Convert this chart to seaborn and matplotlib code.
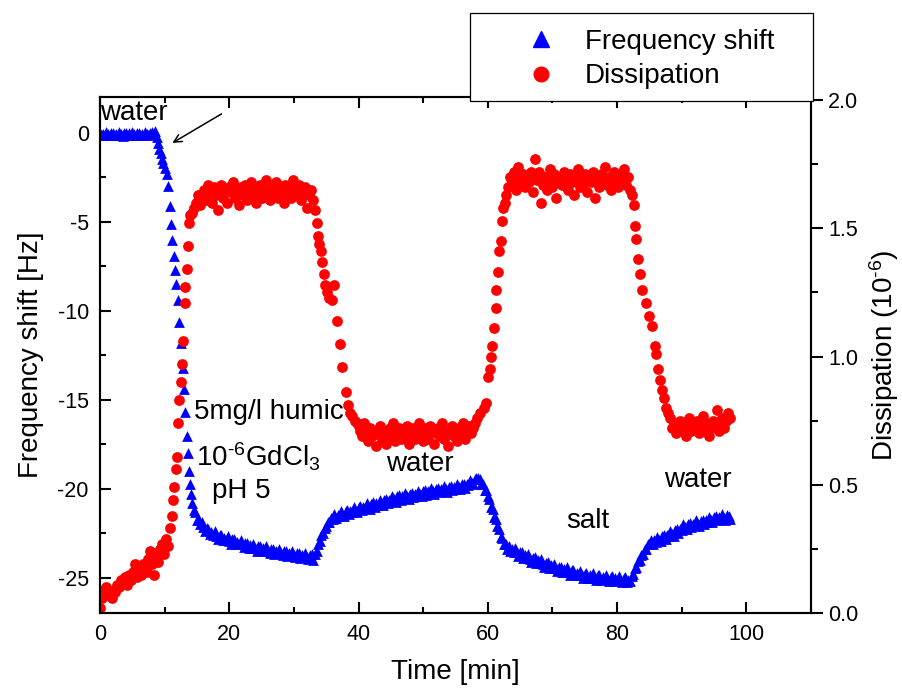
import matplotlib
matplotlib.use("Agg")
import matplotlib.pyplot as plt
from matplotlib.lines import Line2D
from matplotlib.patches import Rectangle
from matplotlib.ticker import MultipleLocator, FormatStrFormatter
import pandas as pd
import seaborn as sns

sns.set_style("ticks")
plt.rcParams["font.family"] = ["Liberation Sans", "DejaVu Sans"]
plt.rcParams["axes.unicode_minus"] = False
plt.rcParams["mathtext.fontset"] = "custom"
plt.rcParams["mathtext.rm"] = "Liberation Sans"
plt.rcParams["mathtext.it"] = "Liberation Sans:italic"
plt.rcParams["mathtext.default"] = "regular"
plt.rcParams["text.color"] = "black"
plt.rcParams["axes.labelcolor"] = "black"
plt.rcParams["xtick.color"] = "black"
plt.rcParams["ytick.color"] = "black"

# QCM-D run: (time [min], frequency shift [Hz])
freq_shift = [
    (0.0, 0.01), (0.25, -0.13), (0.5, -0.03), (0.75, -0.10), (1.0, 0.04), (1.25, -0.08),
    (1.5, -0.14), (1.75, -0.01), (2.0, 0.02), (2.25, -0.12), (2.5, -0.04), (2.75, -0.09),
    (3.0, 0.05), (3.25, -0.07), (3.5, -0.15), (3.75, 0.00), (4.0, 0.01), (4.25, -0.13),
    (4.5, -0.02), (4.75, -0.11), (5.0, 0.03), (5.25, -0.08), (5.5, -0.13), (5.75, -0.02),
    (6.0, 0.02), (6.25, -0.12), (6.5, -0.03), (6.75, -0.10), (7.0, 0.05), (7.25, -0.07),
    (7.5, -0.12), (7.75, 0.02), (8.0, 0.06), (8.25, -0.03), (8.5, 0.12),
    (8.8, -0.2), (9.0, -0.55), (9.2, -0.9), (9.4, -1.15), (9.6, -1.45), (9.8, -1.7),
    (10.0, -1.95), (10.3, -2.3), (10.6, -3.0), (10.8, -4.1), (11.0, -5.1), (11.2, -6.0),
    (11.4, -6.9), (11.6, -7.7), (11.8, -8.5), (12.0, -9.4), (12.3, -10.6), (12.5, -11.8),
    (12.8, -13.2), (13.0, -14.4), (13.2, -15.7), (13.4, -17.0), (13.55, -18.0), (13.7, -19.0),
    (13.9, -19.7), (14.1, -20.3), (14.3, -20.8), (14.5, -21.2),
    (14.75, -21.28), (15.0, -21.75), (15.25, -21.72), (15.5, -21.99), (15.75, -21.83),
    (16.0, -22.14), (16.25, -22.38), (16.5, -22.20), (16.75, -22.23), (17.0, -22.55),
    (17.25, -22.42), (17.5, -22.59), (17.75, -22.38), (18.0, -22.64), (18.25, -22.81),
    (18.5, -22.59), (18.75, -22.58), (19.0, -22.88), (19.25, -22.73), (19.5, -22.89),
    (19.75, -22.66), (20.0, -22.90), (20.25, -23.07), (20.5, -22.84), (20.75, -22.83),
    (21.0, -23.12), (21.25, -22.97), (21.5, -23.11), (21.75, -22.88), (22.0, -23.11),
    (22.25, -23.28), (22.5, -23.04), (22.75, -23.03), (23.0, -23.32), (23.25, -23.17),
    (23.5, -23.31), (23.75, -23.07), (24.0, -23.30), (24.25, -23.46), (24.5, -23.22),
    (24.75, -23.20), (25.0, -23.49), (25.25, -23.33), (25.5, -23.47), (25.75, -23.23),
    (26.0, -23.46), (26.25, -23.62), (26.5, -23.38), (26.75, -23.35), (27.0, -23.64),
    (27.25, -23.47), (27.5, -23.61), (27.75, -23.36), (28.0, -23.59), (28.25, -23.74),
    (28.5, -23.50), (28.75, -23.47), (29.0, -23.75), (29.25, -23.59), (29.5, -23.72),
    (29.75, -23.47), (30.0, -23.70), (30.25, -23.85), (30.5, -23.60), (30.75, -23.58),
    (31.0, -23.86), (31.25, -23.69), (31.5, -23.83), (31.75, -23.58), (32.0, -23.80),
    (32.25, -23.96), (32.5, -23.71), (32.75, -23.68), (33.0, -23.97),
    (33.25, -23.65), (33.5, -23.50), (33.75, -23.10), (34.0, -22.95), (34.25, -22.60),
    (34.5, -22.50), (34.75, -22.20), (35.0, -22.10), (35.25, -21.85), (35.5, -21.85),
    (35.75, -21.65), (36.0, -21.70),
    (36.25, -21.43), (36.5, -21.65), (36.75, -21.44), (37.0, -21.53), (37.25, -21.25),
    (37.5, -21.43), (37.75, -21.54), (38.0, -21.25), (38.25, -21.19), (38.5, -21.43),
    (38.75, -21.22), (39.0, -21.31), (39.25, -21.02), (39.5, -21.21), (39.75, -21.32),
    (40.0, -21.03), (40.25, -20.96), (40.5, -21.21), (40.75, -21.00), (41.0, -21.09),
    (41.25, -20.81), (41.5, -20.99), (41.75, -21.11), (42.0, -20.82), (42.25, -20.76),
    (42.5, -21.00), (42.75, -20.80), (43.0, -20.89), (43.25, -20.61), (43.5, -20.79),
    (43.75, -20.91), (44.0, -20.62), (44.25, -20.56), (44.5, -20.80), (44.75, -20.60),
    (45.0, -20.69), (45.25, -20.41), (45.5, -20.59), (45.75, -20.71), (46.0, -20.42),
    (46.25, -20.36), (46.5, -20.60), (46.75, -20.40), (47.0, -20.51), (47.25, -20.23),
    (47.5, -20.42), (47.75, -20.54), (48.0, -20.27), (48.25, -20.21), (48.5, -20.46),
    (48.75, -20.26), (49.0, -20.37), (49.25, -20.09), (49.5, -20.28), (49.75, -20.40),
    (50.0, -20.13), (50.25, -20.07), (50.5, -20.32), (50.75, -20.12), (51.0, -20.23),
    (51.25, -19.95), (51.5, -20.14), (51.75, -20.27), (52.0, -19.99), (52.25, -19.94),
    (52.5, -20.19), (52.75, -20.00), (53.0, -20.10), (53.25, -19.83), (53.5, -20.02),
    (53.75, -20.15), (54.0, -19.87), (54.25, -19.82), (54.5, -20.07), (54.75, -19.88),
    (55.0, -19.98), (55.25, -19.71), (55.5, -19.90), (55.75, -20.03), (56.0, -19.75),
    (56.25, -19.70), (56.5, -19.95), (56.75, -19.72), (57.0, -19.79), (57.25, -19.48),
    (57.5, -19.64), (57.75, -19.73), (58.0, -19.42), (58.25, -19.40), (58.5, -19.38),
    (58.75, -19.45), (59.0, -19.72), (59.25, -19.75), (59.5, -20.05), (59.75, -20.05),
    (60.0, -20.40), (60.25, -20.55), (60.5, -21.00), (60.75, -21.15), (61.0, -21.60),
    (61.25, -21.70), (61.5, -22.10), (61.75, -22.25), (62.0, -22.70), (62.25, -22.75),
    (62.5, -23.10), (62.75, -23.10), (63.0, -23.35),
    (63.25, -23.18), (63.5, -23.50), (63.75, -23.36), (64.0, -23.53), (64.25, -23.31),
    (64.5, -23.57), (64.75, -23.75), (65.0, -23.54), (65.25, -23.54), (65.5, -23.86),
    (65.75, -23.72), (66.0, -23.89), (66.25, -23.66), (66.5, -23.91), (66.75, -24.08),
    (67.0, -23.86), (67.25, -23.85), (67.5, -24.16), (67.75, -24.01), (68.0, -24.17),
    (68.25, -23.94), (68.5, -24.19), (68.75, -24.36), (69.0, -24.14), (69.25, -24.13),
    (69.5, -24.44), (69.75, -24.29), (70.0, -24.45), (70.25, -24.22), (70.5, -24.45),
    (70.75, -24.62), (71.0, -24.38), (71.25, -24.37), (71.5, -24.66), (71.75, -24.50),
    (72.0, -24.65), (72.25, -24.41), (72.5, -24.65), (72.75, -24.81), (73.0, -24.57),
    (73.25, -24.56), (73.5, -24.85), (73.75, -24.70), (74.0, -24.84), (74.25, -24.60),
    (74.5, -24.84), (74.75, -25.00), (75.0, -24.77), (75.25, -24.74), (75.5, -25.02),
    (75.75, -24.85), (76.0, -24.98), (76.25, -24.73), (76.5, -24.95), (76.75, -25.10),
    (77.0, -24.85), (77.25, -24.82), (77.5, -25.10), (77.75, -24.93), (78.0, -25.06),
    (78.25, -24.81), (78.5, -25.03), (78.75, -25.18), (79.0, -24.93), (79.25, -24.90),
    (79.5, -25.18), (79.75, -25.01), (80.0, -25.14), (80.25, -24.88), (80.5, -25.10),
    (80.75, -25.25), (81.0, -25.00), (81.25, -24.97), (81.5, -25.25), (81.75, -25.09),
    (82.0, -25.20), (82.25, -24.90), (82.5, -24.80), (82.75, -24.45), (83.0, -24.40),
    (83.25, -24.05), (83.5, -24.00), (83.75, -23.70), (84.0, -23.65), (84.25, -23.35),
    (84.5, -23.35), (84.75, -23.10), (85.0, -23.12),
    (85.25, -22.88), (85.5, -23.11), (85.75, -22.89), (86.0, -22.97), (86.25, -22.68),
    (86.5, -22.85), (86.75, -22.95), (87.0, -22.65), (87.25, -22.57), (87.5, -22.80),
    (87.75, -22.59), (88.0, -22.67), (88.25, -22.37), (88.5, -22.54), (88.75, -22.63),
    (89.0, -22.32), (89.25, -22.24), (89.5, -22.46), (89.75, -22.23), (90.0, -22.30),
    (90.25, -21.99), (90.5, -22.16), (90.75, -22.27), (91.0, -21.98), (91.25, -21.92),
    (91.5, -22.16), (91.75, -21.96), (92.0, -22.05), (92.25, -21.77), (92.5, -21.96),
    (92.75, -22.07), (93.0, -21.79), (93.25, -21.72), (93.5, -21.97), (93.75, -21.76),
    (94.0, -21.86), (94.25, -21.58), (94.5, -21.76), (94.75, -21.88), (95.0, -21.59),
    (95.25, -21.53), (95.5, -21.77), (95.75, -21.57), (96.0, -21.68), (96.25, -21.41),
    (96.5, -21.61), (96.75, -21.74), (97.0, -21.48), (97.25, -21.53), (97.5, -21.67),
]

# QCM-D run: (time [min], dissipation [1e-6])
dissipation = [
    (0.0, 0.02), (0.3, 0.06), (0.6, 0.09), (0.9, 0.10), (1.2, 0.07), (1.5, 0.08), (1.8, 0.06),
    (2.1, 0.09), (2.4, 0.08), (2.7, 0.11), (3.0, 0.10), (3.3, 0.13), (3.6, 0.12), (3.9, 0.14),
    (4.2, 0.11), (4.5, 0.15), (4.8, 0.13), (5.1, 0.16), (5.4, 0.19), (5.7, 0.14), (6.0, 0.17),
    (6.3, 0.15), (6.6, 0.19), (6.9, 0.18), (7.2, 0.16), (7.5, 0.21), (7.8, 0.24), (8.1, 0.19),
    (8.4, 0.15), (8.7, 0.22), (9.0, 0.20), (9.3, 0.25), (9.6, 0.27), (9.9, 0.23), (10.2, 0.29),
    (10.5, 0.26), (10.8, 0.33), (11.1, 0.38),
    (11.3, 0.44), (11.5, 0.49), (11.7, 0.56), (11.9, 0.61), (12.1, 0.74), (12.3, 0.83),
    (12.5, 0.90), (12.7, 0.97), (12.9, 1.06), (13.1, 1.21), (13.2, 1.27), (13.4, 1.34),
    (13.6, 1.43), (13.8, 1.52), (14.0, 1.55), (14.3, 1.56), (14.6, 1.58),
    (14.9, 1.60), (15.2, 1.63), (15.5, 1.59), (15.8, 1.62), (16.1, 1.65), (16.4, 1.61),
    (16.7, 1.67), (17.0, 1.64), (17.3, 1.60), (17.6, 1.66), (17.9, 1.63), (18.2, 1.57),
    (18.5, 1.64), (18.8, 1.67), (19.1, 1.62), (19.4, 1.65), (19.7, 1.60), (20.0, 1.66),
    (20.3, 1.64), (20.6, 1.68), (20.9, 1.62), (21.2, 1.65), (21.5, 1.59), (21.8, 1.66),
    (22.1, 1.63), (22.4, 1.67), (22.7, 1.61), (23.0, 1.65), (23.3, 1.68), (23.6, 1.63),
    (23.9, 1.66), (24.2, 1.60), (24.5, 1.64), (24.8, 1.67), (25.1, 1.62), (25.4, 1.65),
    (25.7, 1.69), (26.0, 1.63), (26.3, 1.61), (26.6, 1.66), (26.9, 1.64), (27.2, 1.68),
    (27.5, 1.62), (27.8, 1.65), (28.1, 1.63), (28.4, 1.60), (28.7, 1.67), (29.0, 1.64),
    (29.3, 1.66), (29.6, 1.62), (29.9, 1.69), (30.2, 1.65), (30.5, 1.63), (30.8, 1.67),
    (31.1, 1.61), (31.4, 1.64), (31.7, 1.66), (32.0, 1.58), (32.3, 1.63), (32.6, 1.65),
    (32.9, 1.61), (33.2, 1.57),
    (33.5, 1.52), (33.7, 1.47), (33.9, 1.44), (34.2, 1.41), (34.4, 1.37), (34.6, 1.32),
    (34.8, 1.28), (35.2, 1.25), (35.5, 1.23), (35.9, 1.22), (36.2, 1.28), (36.6, 1.14),
    (37.1, 1.05), (37.5, 0.96), (38.0, 0.86), (38.3, 0.81), (38.7, 0.78), (39.0, 0.77),
    (39.4, 0.75), (39.7, 0.74),
    (40.0, 0.73), (40.3, 0.71), (40.6, 0.69), (40.9, 0.74), (41.2, 0.70), (41.5, 0.67),
    (41.8, 0.72), (42.1, 0.69), (42.4, 0.71), (42.7, 0.65), (43.0, 0.70), (43.3, 0.73),
    (43.6, 0.68), (43.9, 0.71), (44.2, 0.66), (44.5, 0.70), (44.8, 0.72), (45.1, 0.69),
    (45.4, 0.74), (45.7, 0.67), (46.0, 0.70), (46.3, 0.72), (46.6, 0.68), (46.9, 0.71),
    (47.2, 0.69), (47.5, 0.73), (47.8, 0.66), (48.1, 0.70), (48.4, 0.72), (48.7, 0.68),
    (49.0, 0.71), (49.3, 0.74), (49.6, 0.69), (49.9, 0.67), (50.2, 0.72), (50.5, 0.70),
    (50.8, 0.68), (51.1, 0.73), (51.4, 0.71), (51.7, 0.66), (52.0, 0.70), (52.3, 0.72),
    (52.6, 0.69), (52.9, 0.74), (53.2, 0.68), (53.5, 0.71), (53.8, 0.65), (54.1, 0.70),
    (54.4, 0.73), (54.7, 0.69), (55.0, 0.71), (55.3, 0.67), (55.6, 0.72), (55.9, 0.70),
    (56.2, 0.74), (56.5, 0.68), (56.8, 0.71), (57.1, 0.73), (57.4, 0.70), (57.7, 0.72),
    (58.0, 0.74), (58.3, 0.76), (58.8, 0.78), (59.4, 0.80), (59.8, 0.82), (60.1, 0.92),
    (60.3, 0.95), (60.5, 1.00), (60.7, 1.04), (61.0, 1.11), (61.2, 1.19), (61.3, 1.26),
    (61.6, 1.33), (61.8, 1.41), (62.0, 1.45), (62.2, 1.53), (62.4, 1.58), (62.6, 1.60),
    (62.8, 1.63),
    (63.1, 1.66), (63.4, 1.70), (63.7, 1.68), (64.0, 1.72), (64.3, 1.65), (64.6, 1.74),
    (64.9, 1.69), (65.2, 1.67), (65.5, 1.71), (65.8, 1.66), (66.1, 1.70), (66.4, 1.68),
    (66.7, 1.72), (67.0, 1.64), (67.3, 1.77), (67.6, 1.69), (67.9, 1.72), (68.2, 1.60),
    (68.5, 1.67), (68.8, 1.70), (69.1, 1.65), (69.4, 1.69), (69.7, 1.73), (70.0, 1.66),
    (70.3, 1.71), (70.6, 1.62), (70.9, 1.68), (71.2, 1.70), (71.5, 1.67), (71.8, 1.72),
    (72.1, 1.69), (72.4, 1.65), (72.7, 1.71), (73.0, 1.68), (73.3, 1.63), (73.6, 1.70),
    (73.9, 1.73), (74.2, 1.66), (74.5, 1.69), (74.8, 1.67), (75.1, 1.71), (75.4, 1.64),
    (75.7, 1.70), (76.0, 1.68), (76.3, 1.72), (76.6, 1.62), (76.9, 1.69), (77.2, 1.66),
    (77.5, 1.71), (77.8, 1.68), (78.1, 1.74), (78.4, 1.67), (78.7, 1.70), (79.0, 1.65),
    (79.3, 1.69), (79.6, 1.72), (79.9, 1.68), (80.2, 1.66), (80.5, 1.71), (80.8, 1.69),
    (81.1, 1.73), (81.4, 1.67), (81.7, 1.70), (82.0, 1.65), (82.3, 1.63),
    (82.6, 1.59), (82.8, 1.51), (83.0, 1.46), (83.2, 1.38), (83.5, 1.32), (83.9, 1.26),
    (84.5, 1.21), (85.0, 1.16), (85.4, 1.12), (85.8, 1.04), (86.1, 1.01), (86.4, 0.95),
    (86.6, 0.91), (86.9, 0.87), (87.2, 0.84), (87.6, 0.80), (87.9, 0.78),
    (88.2, 0.76), (88.5, 0.72), (88.8, 0.74), (89.1, 0.70), (89.4, 0.73), (89.7, 0.75),
    (90.0, 0.71), (90.3, 0.74), (90.6, 0.69), (90.9, 0.73), (91.2, 0.76), (91.5, 0.71),
    (91.8, 0.74), (92.1, 0.72), (92.4, 0.75), (92.7, 0.70), (93.0, 0.73), (93.3, 0.77),
    (93.6, 0.71), (93.9, 0.74), (94.2, 0.69), (94.5, 0.72), (94.8, 0.75), (95.1, 0.73),
    (95.4, 0.79), (95.7, 0.71), (96.0, 0.74), (96.3, 0.76), (96.6, 0.72), (96.9, 0.75),
    (97.2, 0.78), (97.5, 0.76),
]

# Step annotations: (text, time, frequency shift)
annotations = [
    ("water", 0.0, 1.15),
    ("5mg/l humic", 14.6, -15.7),
    (r"10$^{\text{-6}}$GdCl$_3$", 14.8, -18.2),
    ("pH 5", 17.3, -20.1),
    ("water", 44.2, -18.6),
    ("salt", 72.2, -21.8),
    ("water", 87.2, -19.5),
]

freq_df = pd.DataFrame(freq_shift, columns=["time", "shift"])
diss_df = pd.DataFrame(dissipation, columns=["time", "dissipation"])

LABEL_SIZE = 20
TICK_SIZE = 15.5

fig = plt.figure(figsize=(9.03, 6.91), dpi=100)
ax = fig.add_axes([0.1107, 0.1129, 0.7874, 0.7467])
ax2 = ax.twinx()

sns.scatterplot(data=freq_df, x="time", y="shift", ax=ax, marker="^",
                color="#0000ff", s=60, linewidth=0, legend=False)
sns.scatterplot(data=diss_df, x="time", y="dissipation", ax=ax2, marker="o",
                color="#ff0000", s=60, linewidth=0, legend=False)

ax.set_xlim(0, 110)
ax.set_ylim(-26.97, 2.02)
ax2.set_ylim(0, 2.012)

ax.xaxis.set_major_locator(MultipleLocator(20))
ax.xaxis.set_minor_locator(MultipleLocator(10))
ax.yaxis.set_major_locator(MultipleLocator(5))
ax.yaxis.set_minor_locator(MultipleLocator(2.5))
ax2.yaxis.set_major_locator(MultipleLocator(0.5))
ax2.yaxis.set_minor_locator(MultipleLocator(0.25))
ax2.yaxis.set_major_formatter(FormatStrFormatter("%.1f"))

for a in (ax, ax2):
    for sp in a.spines.values():
        sp.set_visible(True)
        sp.set_linewidth(1.5)
        sp.set_color("black")

ax.tick_params(which="both", direction="in", top=True, right=False,
               width=1.5, labelsize=TICK_SIZE, colors="black", pad=8)
ax.tick_params(which="major", length=8)
ax.tick_params(which="minor", length=4.5)
ax2.tick_params(axis="y", which="both", direction="out", width=1.5,
                labelsize=TICK_SIZE, colors="black", pad=4)
ax2.tick_params(axis="y", which="major", length=8.5)
ax2.tick_params(axis="y", which="minor", length=5)

ax.set_xlabel("Time [min]", fontsize=LABEL_SIZE, labelpad=10)
ax.set_ylabel("Frequency shift [Hz]", fontsize=LABEL_SIZE, labelpad=10)
ax2.set_ylabel("Dissipation (10$^{\\text{-6}}$)", fontsize=LABEL_SIZE, labelpad=6)

for text, t, f in annotations:
    ax2.text(t, f, text, transform=ax.transData, fontsize=LABEL_SIZE,
             ha="left", va="center", color="black", zorder=5)

ax2.annotate("", xy=(11.2, -0.56), xytext=(18.8, 1.07),
             xycoords=ax.transData, textcoords=ax.transData,
             arrowprops=dict(arrowstyle="->", color="black", lw=1.1,
                             mutation_scale=14, shrinkA=0, shrinkB=0))

# Legend box straddling the top of the frame
fig.add_artist(Rectangle((0.5205, 0.8538), 0.3798, 0.1274, transform=fig.transFigure,
                         facecolor="white", edgecolor="black", linewidth=0.9, zorder=4))
handles = [
    Line2D([], [], linestyle="none", marker="^", color="#0000ff", markersize=11),
    Line2D([], [], linestyle="none", marker="o", color="#ff0000", markersize=10.5),
]
fig.legend(handles, ["Frequency shift", "Dissipation"], loc="upper left",
           bbox_to_anchor=(527 / 903, 1 - 29 / 691), frameon=False, borderpad=0,
           borderaxespad=0, handlelength=1.0, handletextpad=1.09, labelspacing=0.30,
           fontsize=LABEL_SIZE, numpoints=1)

fig.savefig("out.png", dpi=100)
